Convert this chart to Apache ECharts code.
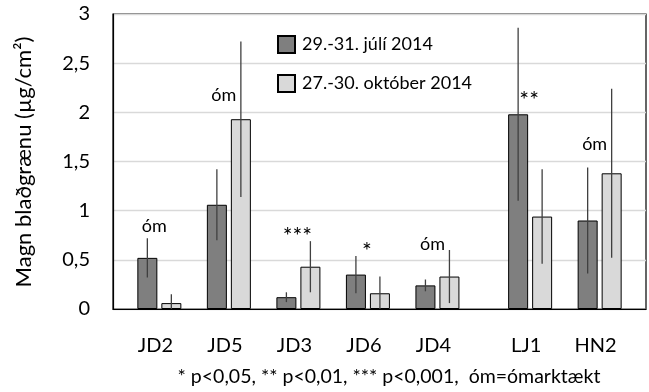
<!DOCTYPE html>
<html>
<head>
<meta charset="utf-8">
<script src="https://cdn.jsdelivr.net/npm/echarts@6/dist/echarts.min.js"></script>
<style>
  html, body { margin: 0; padding: 0; background: #fff; }
  #chart { width: 649px; height: 392px; }
</style>
</head>
<body>
<div id="chart"></div>
<script>
// Sampling sites and chlorophyll measurements (mean and spread, µg/cm²)
const sites    = ['JD2', 'JD5', 'JD3', 'JD6', 'JD4', 'LJ1', 'HN2'];
const julyMean = [0.52, 1.06, 0.12, 0.35, 0.24, 1.98, 0.90];
const julyErr  = [0.20, 0.36, 0.05, 0.19, 0.06, 0.88, 0.54];
const octMean  = [0.06, 1.93, 0.43, 0.16, 0.33, 0.94, 1.38];
const octErr   = [0.09, 0.79, 0.26, 0.17, 0.27, 0.48, 0.86];
// Significance marks between the two sampling dates and the height they sit at
const signif   = ['óm', 'óm', '***', '*', 'óm', '**', 'óm'];
const signifAt = [0.84, 2.17, 0.78, 0.62, 0.66, 2.16, 1.68];

const seriesNames = ['29.-31. júlí 2014', '27.-30. október 2014'];
const yTicks = { min: 0, max: 3, step: 0.5 };

// Layout of the x axis: sites sit on a fine grid of slots, with a wider
// break before the LJ1/HN2 pair.
const SLOT_LEAD = 4, SLOT_STEP = 6, BREAK_EXTRA = 2, SLOT_TAIL = 4, SLOT_PX = 11.84;
const slotOf = [];
let s = SLOT_LEAD;
sites.forEach((name, i) => {
  if (name === 'LJ1') s += BREAK_EXTRA;
  slotOf.push(s);
  s += SLOT_STEP;
});
const slotCount = slotOf[slotOf.length - 1] + SLOT_TAIL + 1;
const axisCats = Array.from({ length: slotCount }, (_, k) => {
  const i = slotOf.indexOf(k);
  return i >= 0 ? sites[i] : '';
});
function spread(values) {
  const arr = new Array(slotCount).fill('-');
  values.forEach((v, i) => { arr[slotOf[i]] = v; });
  return arr;
}

const FONT = 'Lato';
const BAR_W = 20, BAR_GAP = 4;
const barOffset = (BAR_W + BAR_GAP) / 2;

function errorBars(means, errs, dx) {
  return {
    type: 'custom',
    silent: true,
    clip: true,
    z: 5,
    data: means.map((m, i) => [slotOf[i], m - errs[i], m + errs[i]]),
    renderItem(params, api) {
      const lo = api.coord([api.value(0), api.value(1)]);
      const hi = api.coord([api.value(0), api.value(2)]);
      return {
        type: 'line',
        shape: { x1: lo[0] + dx, y1: lo[1], x2: hi[0] + dx, y2: hi[1] },
        style: { stroke: '#404040', lineWidth: 1.3 }
      };
    }
  };
}

const chart = echarts.init(document.getElementById('chart'), null, { renderer: 'canvas' });
chart.setOption({
  animation: false,
  textStyle: { fontFamily: FONT },
  grid: {
    left: 113, top: 14, height: 295, width: (slotCount - 1) * SLOT_PX,
    show: true, borderColor: '#000', borderWidth: 1.2, backgroundColor: 'transparent'
  },
  legend: {
    orient: 'vertical',
    left: 272, top: 30,
    itemWidth: 17, itemHeight: 17, itemGap: 20,
    icon: 'rect',
    textStyle: { fontFamily: FONT, fontSize: 18, color: '#000', padding: [0, 0, 0, 2] },
    data: seriesNames
  },
  xAxis: {
    type: 'category',
    data: axisCats,
    boundaryGap: false,
    axisLine: { lineStyle: { color: '#000', width: 1.2 } },
    axisTick: { show: false },
    axisLabel: {
      interval: 0, margin: 27, fontSize: 20, color: '#000', fontFamily: FONT,
      padding: [0, 8, 0, 0]
    },
    splitLine: { show: false }
  },
  yAxis: {
    type: 'value',
    min: yTicks.min, max: yTicks.max, interval: yTicks.step,
    axisLine: { show: true, lineStyle: { color: '#000', width: 1.2 } },
    axisTick: { show: false },
    axisLabel: {
      margin: 23, fontSize: 20, color: '#000', fontFamily: FONT,
      formatter: v => String(v).replace('.', ',')
    },
    splitLine: { lineStyle: { color: '#d9d9d9', width: 1.3 } }
  },
  series: [
    {
      name: seriesNames[0], type: 'bar', data: spread(julyMean),
      barWidth: BAR_W, barGap: (BAR_GAP / BAR_W * 100) + '%',
      itemStyle: { color: '#7f7f7f', borderColor: '#000', borderWidth: 1 }
    },
    {
      name: seriesNames[1], type: 'bar', data: spread(octMean),
      barWidth: BAR_W,
      itemStyle: { color: '#d9d9d9', borderColor: '#000', borderWidth: 1 }
    },
    errorBars(julyMean, julyErr, -barOffset),
    errorBars(octMean, octErr, barOffset),
    {
      type: 'custom',
      silent: true,
      z: 6,
      data: signif.map((t, i) => [slotOf[i], signifAt[i], t]),
      renderItem(params, api) {
        const p = api.coord([api.value(0), api.value(1)]);
        const t = signif[params.dataIndex];
        const isStar = t !== 'óm';
        return {
          type: 'text',
          x: p[0] + (isStar ? -1 : -5), y: p[1] + (isStar ? 4 : 0),
          style: {
            text: t, fill: '#000', font: (isStar ? '23px ' : '18px ') + FONT,
            align: 'center', verticalAlign: 'middle'
          }
        };
      }
    }
  ],
  graphic: [
    {
      type: 'text', x: 24, y: 162, rotation: Math.PI / 2,
      style: {
        text: 'Magn blaðgrænu (µg/cm²)', fill: '#000', font: '22px ' + FONT,
        align: 'center', verticalAlign: 'middle'
      }
    },
    {
      type: 'text', x: 389, y: 377,
      style: {
        text: '* p<0,05, ** p<0,01, *** p<0,001,  óm=ómarktækt', fill: '#000', font: '19.5px ' + FONT,
        align: 'center', verticalAlign: 'middle'
      }
    }
  ]
});
</script>
</body>
</html>
